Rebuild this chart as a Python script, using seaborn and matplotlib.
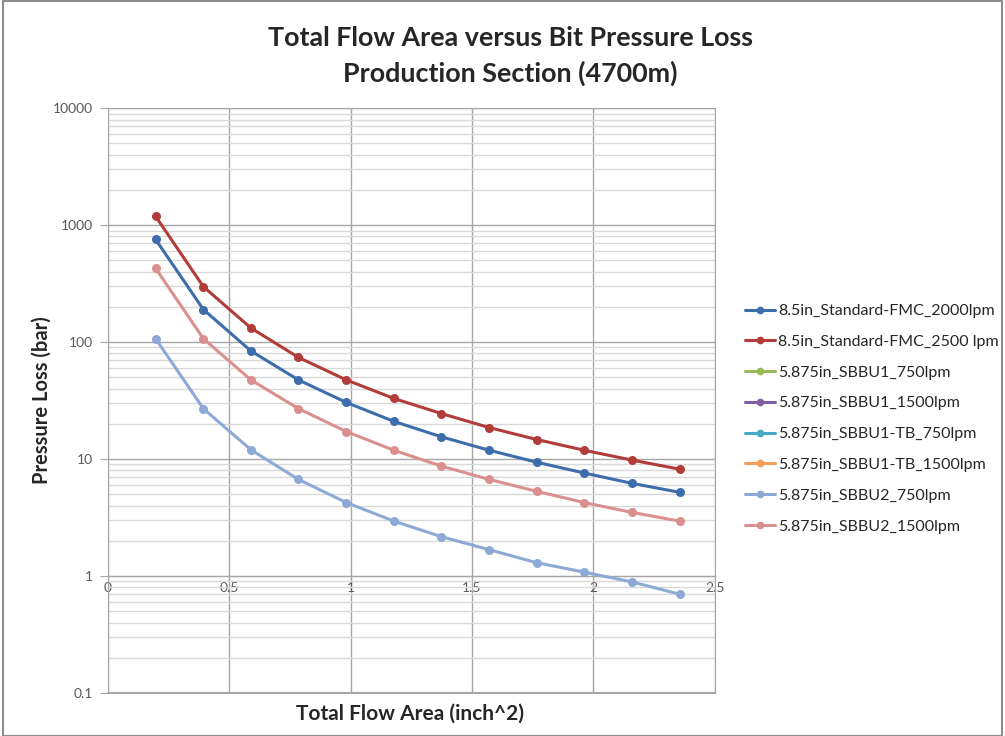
import numpy as np
import pandas as pd
import matplotlib.pyplot as plt
import seaborn as sns
from matplotlib.lines import Line2D
from matplotlib.ticker import FixedLocator, LogLocator, NullFormatter
from matplotlib.patches import Rectangle

# Total flow area (inch^2) of the nozzle combinations
tfa = [0.196, 0.393, 0.589, 0.785, 0.982, 1.178, 1.374, 1.571, 1.767, 1.963, 2.160, 2.356]

# Bit pressure loss (bar)
std_fmc_2000 = [755, 190, 84, 47.5, 30.5, 21, 15.5, 11.9, 9.4, 7.6, 6.2, 5.2]
std_fmc_2500 = [1190, 298, 132, 74, 47.5, 33, 24.5, 18.6, 14.7, 11.9, 9.8, 8.2]
sbbu2_750 = [107, 27, 12, 6.7, 4.25, 2.95, 2.17, 1.68, 1.3, 1.08, 0.89, 0.7]
sbbu2_1500 = [428, 107, 47.5, 27, 17.2, 11.9, 8.7, 6.7, 5.3, 4.25, 3.5, 2.95]

series_names = [
    "8.5in_Standard-FMC_2000lpm",
    "8.5in_Standard-FMC_2500 lpm",
    "5.875in_SBBU1_750lpm",
    "5.875in_SBBU1_1500lpm",
    "5.875in_SBBU1-TB_750lpm",
    "5.875in_SBBU1-TB_1500lpm",
    "5.875in_SBBU2_750lpm",
    "5.875in_SBBU2_1500lpm",
]
series_values = {
    "8.5in_Standard-FMC_2000lpm": std_fmc_2000,
    "8.5in_Standard-FMC_2500 lpm": std_fmc_2500,
    "5.875in_SBBU2_750lpm": sbbu2_750,
    "5.875in_SBBU2_1500lpm": sbbu2_1500,
}
colors = ['#3D6DAA', '#B23C39', '#98B954', '#7D60A0',
          '#46AAC5', '#F59D56', '#8DA9D5', '#D9908E']
palette = dict(zip(series_names, colors))

rows = []
for name, vals in series_values.items():
    for x, y in zip(tfa, vals):
        rows.append({'TFA': x, 'Loss': y, 'Series': name})
df = pd.DataFrame(rows)

sns.set_style('white')
plt.rcParams['font.family'] = ['Lato', 'DejaVu Sans']

fig = plt.figure(figsize=(10.05, 7.36), dpi=100)
ax = fig.add_axes([0.1075, 0.0584, 0.6035, 0.7946])

sns.lineplot(data=df, x='TFA', y='Loss', hue='Series', hue_order=series_names,
             palette=palette, marker='o', markersize=6.5, markeredgewidth=0,
             linewidth=2.2, legend=False, ax=ax, zorder=3)

ax.set_yscale('log')
ax.set_ylim(0.1, 10000)
ax.set_xlim(0, 2.5)

# grid, Excel style
ax.xaxis.set_major_locator(FixedLocator([0, 0.5, 1, 1.5, 2, 2.5]))
ax.yaxis.set_major_locator(LogLocator(base=10, numticks=10))
ax.yaxis.set_minor_locator(LogLocator(base=10, subs=np.arange(2, 10), numticks=100))
ax.yaxis.set_minor_formatter(NullFormatter())
ax.grid(True, which='major', axis='both', color='#A6A6A6', linewidth=1.0, zorder=0)
ax.grid(True, which='minor', axis='y', color='#D9D9D9', linewidth=1.0, zorder=0)
ax.set_axisbelow(True)

ax.set_yticks([0.1, 1, 10, 100, 1000, 10000])
ax.set_yticklabels(['0.1', '1', '10', '100', '1000', '10000'])
ax.set_xticklabels(['0', '0.5', '1', '1.5', '2', '2.5'])

# x axis crosses at y = 1
ax.spines['bottom'].set_position(('data', 1))
for side in ['bottom', 'left', 'top', 'right']:
    ax.spines[side].set_color('#A6A6A6')
ax.axhline(0.1, color='#A6A6A6', linewidth=1.5, zorder=1, clip_on=False)

ax.tick_params(axis='x', which='major', length=0, pad=4, labelsize=10, labelcolor='#595959')
ax.tick_params(axis='y', which='major', length=6, direction='out', color='#A6A6A6',
               left=True, pad=5, labelsize=10, labelcolor='#595959')
ax.tick_params(axis='y', which='minor', length=0)

ax.set_xlabel('')
ax.set_ylabel('Pressure Loss (bar)', fontsize=14.5, fontweight='bold', labelpad=1)

fig.text(0.408, 0.031, 'Total Flow Area (inch^2)', ha='center', va='center',
         fontsize=15, fontweight='bold')
fig.suptitle('Total Flow Area versus Bit Pressure Loss\nProduction Section (4700m)',
             x=0.508, y=0.964, fontsize=19.4, fontweight='bold', linespacing=1.5)

handles = [Line2D([0], [0], color=c, marker='o', markersize=5.5, markeredgewidth=0,
                  linewidth=2.2) for c in colors]
fig.legend(handles, series_names, loc='center left', bbox_to_anchor=(0.727, 0.431),
           frameon=False, fontsize=11.5, handlelength=1.9, handletextpad=0.15,
           labelspacing=1.04)

# chart area border
fig.patches.append(Rectangle((0.003, 0.0), 0.994, 0.999, transform=fig.transFigure,
                             fill=False, edgecolor='#8C8C8C', linewidth=1.5))

fig.savefig('out.png', dpi=100)
